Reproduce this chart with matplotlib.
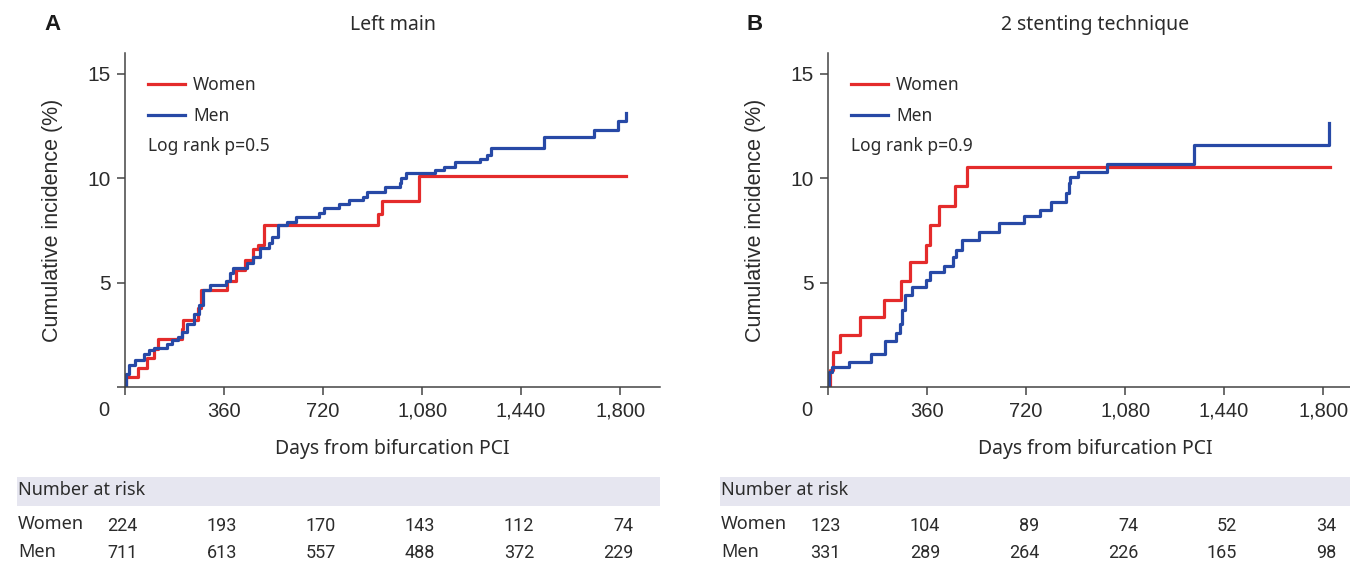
import matplotlib

matplotlib.use("Agg")
import matplotlib.pyplot as plt
import matplotlib.transforms as mtransforms
from matplotlib import font_manager
from matplotlib.patches import Rectangle

# ---- data (days, cumulative incidence %) ----
A_WOMEN_DAYS = [0, 5, 48, 81, 107, 120, 206, 212, 265, 276, 370, 403, 438, 464,
                484, 506, 920, 933, 1069, 1823]
A_WOMEN_VALS = [0, 0.5, 0.9, 1.4, 1.8, 2.3, 2.8, 3.2, 3.8, 4.65, 5.1, 5.6, 6.1,
                6.6, 6.8, 7.75, 8.3, 8.9, 10.1, 10.1]
A_MEN_DAYS = [0, 5, 16, 35, 68, 87, 107, 152, 172, 191, 208, 224, 252, 269, 282,
              308, 367, 380, 393, 445, 464, 490, 523, 536, 558, 588, 620, 705,
              724, 777, 815, 867, 880, 945, 998, 1004, 1020, 1128, 1160, 1199,
              1290, 1316, 1329, 1524, 1706, 1791, 1823]
A_MEN_VALS = [0, 0.6, 1.04, 1.28, 1.6, 1.76, 1.89, 2.08, 2.24, 2.4, 2.64, 3.04,
              3.52, 3.92, 4.64, 4.88, 5.1, 5.44, 5.68, 5.92, 6.24, 6.64, 6.88,
              7.2, 7.76, 7.92, 8.16, 8.32, 8.56, 8.77, 8.96, 9.12, 9.36, 9.6,
              9.76, 10.0, 10.27, 10.4, 10.56, 10.8, 10.93, 11.12, 11.44, 12.0,
              12.32, 12.72, 13.12]

B_WOMEN_DAYS = [0, 6, 17, 45, 115, 205, 265, 298, 358, 371, 403, 461, 505, 1825]
B_WOMEN_VALS = [0, 0.8, 1.68, 2.48, 3.36, 4.19, 5.07, 5.97, 6.8, 7.76, 8.69,
                9.63, 10.56, 10.56]
B_MEN_DAYS = [0, 4, 13, 77, 157, 209, 249, 260, 269, 279, 307, 358, 371, 422,
              454, 464, 486, 550, 620, 713, 771, 810, 866, 876, 880, 908, 1013,
              1330, 1823]
B_MEN_VALS = [0, 0.72, 0.96, 1.2, 1.57, 2.19, 2.59, 3.04, 3.68, 4.43, 4.8, 5.12,
              5.49, 5.79, 6.24, 6.56, 7.04, 7.44, 7.84, 8.19, 8.48, 8.88, 9.31,
              9.76, 10.05, 10.32, 10.69, 11.6, 12.64]

RISK_DAYS = [0, 360, 720, 1080, 1440, 1800]
A_WOMEN_RISK = [224, 193, 170, 143, 112, 74]
A_MEN_RISK = [711, 613, 557, 488, 372, 229]
B_WOMEN_RISK = [123, 104, 89, 74, 52, 34]
B_MEN_RISK = [331, 289, 264, 226, 165, 98]

X_TICKS = [0, 360, 720, 1080, 1440, 1800]
X_TICK_LABELS = ["", "360", "720", "1,080", "1,440", "1,800"]
Y_TICKS = [0, 5, 10, 15]
Y_TICK_LABELS = ["", "5", "10", "15"]

RED = "#e42b2b"
BLUE = "#2749a6"
TEXT = "#2b2b2b"
BAND = "#e6e6f0"

W, H = 1350, 565


def pick_font(*names):
    have = {f.name for f in font_manager.fontManager.ttflist}
    for n in names:
        if n in have:
            return n
    return "DejaVu Sans"


SANS = pick_font("Noto Sans", "DejaVu Sans")
ARIAL = pick_font("Liberation Sans", "DejaVu Sans")
NARROW = pick_font("Liberation Sans Narrow", "Roboto", "Liberation Sans")


def draw_panel(fig, left_px, letter, title, women, men, p_text, risk_w, risk_m):
    ax = fig.add_axes([left_px / W, 178 / H, 535 / W, 334 / H])
    ax.step(women[0], women[1], where="post", color=RED, lw=2.3, label="Women")
    ax.step(men[0], men[1], where="post", color=BLUE, lw=2.3, label="Men")
    ax.set_xlim(0, 1945)
    ax.set_ylim(0, 16)
    for s in ("top", "right"):
        ax.spines[s].set_visible(False)
    for s in ("left", "bottom"):
        ax.spines[s].set_color("#444444")
        ax.spines[s].set_linewidth(1.1)
    ax.set_xticks(X_TICKS, X_TICK_LABELS, fontfamily=ARIAL, fontsize=14.5, color=TEXT)
    ax.set_yticks(Y_TICKS, Y_TICK_LABELS, fontfamily=ARIAL, fontsize=15, color=TEXT)
    ax.tick_params(axis="both", length=5.5, width=1.1, color="#444444", pad=5)

    # origin label sits at the corner, left of the first tick
    off = mtransforms.offset_copy(ax.transAxes, fig=fig, x=-21, y=-24, units="dots")
    ax.text(0, 0, "0", transform=off, ha="center", va="center",
            fontfamily=ARIAL, fontsize=14.5, color=TEXT)

    ax.set_xlabel("Days from bifurcation PCI", fontfamily=SANS, fontsize=14, color=TEXT)
    ax.xaxis.set_label_coords(0.5, -62 / 334)
    ax.xaxis.label.set_va("center")
    ax.set_ylabel("Cumulative incidence (%)", fontfamily=ARIAL, fontsize=15.5, color=TEXT)
    ax.yaxis.set_label_coords(-72 / 535, 0.5)
    ax.yaxis.label.set_va("center")

    ax.text(0.5, 362 / 334, title, transform=ax.transAxes, ha="center", va="center",
            fontfamily=SANS, fontsize=14, color=TEXT)
    fig.text((left_px - 73) / W, 1 - 25 / H, letter, ha="center", va="center",
             fontfamily=ARIAL, fontsize=16, fontweight="bold", color="#1a1a1a")

    ax.legend(loc="upper left", bbox_to_anchor=(23 / 535, 0.93), frameon=False,
              borderpad=0, borderaxespad=0, handlelength=2.15, handletextpad=0.45,
              labelspacing=0.72, prop={"family": SANS, "size": 12.5},
              labelcolor=TEXT)
    ax.text(23 / 535, (387 - 146) / 334, p_text, transform=ax.transAxes,
            ha="left", va="center", fontfamily=SANS, fontsize=12.5, color=TEXT)

    # number-at-risk table under the panel
    band_left = left_px - 108
    fig.patches.append(Rectangle((band_left / W, 59 / H), (535 + 108) / W, 29 / H,
                                 transform=fig.transFigure, facecolor=BAND,
                                 edgecolor="none", zorder=0))
    fig.text((band_left + 1) / W, 1 - 490 / H, "Number at risk", ha="left",
             va="center", fontfamily=SANS, fontsize=13, color=TEXT)
    fig.text((band_left + 1) / W, 1 - 524 / H, "Women", ha="left", va="center",
             fontfamily=SANS, fontsize=13, color=TEXT)
    fig.text((band_left + 1) / W, 1 - 552 / H, "Men", ha="left", va="center",
             fontfamily=SANS, fontsize=13, color=TEXT)
    blend = mtransforms.blended_transform_factory(ax.transData, fig.transFigure)
    num_tr = mtransforms.offset_copy(blend, fig=fig, x=13, y=0, units="dots")
    for d, nw, nm in zip(RISK_DAYS, risk_w, risk_m):
        fig.text(d, 1 - 526 / H, str(nw), transform=num_tr, ha="right",
                 va="center", fontfamily=NARROW, fontsize=13, color=TEXT)
        fig.text(d, 1 - 553 / H, str(nm), transform=num_tr, ha="right",
                 va="center", fontfamily=NARROW, fontsize=13, color=TEXT)
    return ax


def main():
    fig = plt.figure(figsize=(W / 100, H / 100), dpi=100)
    draw_panel(fig, 125, "A", "Left main", (A_WOMEN_DAYS, A_WOMEN_VALS),
               (A_MEN_DAYS, A_MEN_VALS), "Log rank p=0.5", A_WOMEN_RISK, A_MEN_RISK)
    draw_panel(fig, 828, "B", "2 stenting technique", (B_WOMEN_DAYS, B_WOMEN_VALS),
               (B_MEN_DAYS, B_MEN_VALS), "Log rank p=0.9", B_WOMEN_RISK, B_MEN_RISK)
    fig.savefig("out.png", dpi=100)
    plt.close(fig)


if __name__ == "__main__":
    main()
